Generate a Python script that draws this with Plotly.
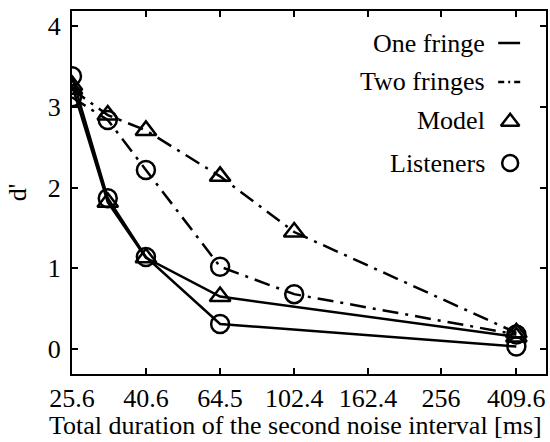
import math
import plotly.graph_objects as go

# Durations (ms) and d' values
dur_one = [25.6, 32, 40.6, 64.5, 409.6]
dur_two = [25.6, 32, 40.6, 64.5, 102.4, 409.6]
one_model = [3.27, 1.82, 1.13, 0.65, 0.15]
one_listen = [3.38, 1.87, 1.14, 0.31, 0.03]
two_model = [3.22, 2.90, 2.71, 2.14, 1.45, 0.20]
two_listen = [3.12, 2.84, 2.22, 1.02, 0.68, 0.18]

x_ticks = [25.6, 40.6, 64.5, 102.4, 162.4, 256, 409.6]
x_ticktext = ["25.6", "40.6", "64.5", "102.4", "162.4", "256", "409.6"]
y_ticks = [0, 1, 2, 3, 4]

legend_labels = ["One fringe", "Two fringes", "Model", "Listeners"]
x_title = "Total duration of the second noise interval [ms]"

FONT = "Times New Roman, Liberation Serif, DejaVu Serif, serif"
FS = 26
DASHDOT = "16px,7px,3px,7px"
LW = 2.5

fig = go.Figure()


def add_series(x, y, dash, symbol):
    fig.add_trace(go.Scatter(
        x=x, y=y, mode="lines+markers",
        line=dict(color="black", width=LW, dash=dash),
        marker=dict(symbol=symbol, size=18, color="black",
                    line=dict(color="black", width=2.5)),
        showlegend=False, hoverinfo="skip",
    ))


add_series(dur_one, one_model, "solid", "triangle-up-open")
add_series(dur_one, one_listen, "solid", "circle-open")
add_series(dur_two, two_model, DASHDOT, "triangle-up-open")
add_series(dur_two, two_listen, DASHDOT, "circle-open")

# Plot-area edges in pixels, used to place the key and the x title
PL, PR, PT, PB = 72, 548, 11, 374
W, H = PR - PL, PB - PT


def px_x(px):
    return (px - PL) / W


def px_y(py):
    return (PB - py) / H


# Hand-built key: text on the left, symbol on the right
row_y = [43, 82, 120, 163]
for lab, ry in zip(legend_labels, row_y):
    fig.add_annotation(
        x=px_x(489), y=px_y(ry), xref="paper", yref="paper",
        text=lab, showarrow=False, xanchor="right", yanchor="middle",
        font=dict(family=FONT, size=FS, color="black"),
    )

fig.add_shape(type="line", xref="paper", yref="paper",
              x0=px_x(500), x1=px_x(522), y0=px_y(row_y[0]), y1=px_y(row_y[0]),
              line=dict(color="black", width=LW))
fig.add_shape(type="line", xref="paper", yref="paper",
              x0=px_x(500), x1=px_x(523), y0=px_y(row_y[1]), y1=px_y(row_y[1]),
              line=dict(color="black", width=LW, dash="6px,4px,2px,4px"))

fig.add_trace(go.Scatter(
    x=[px_x(512), px_x(512)], y=[px_y(row_y[2]) - 0.005, px_y(row_y[3])],
    xaxis="x2", yaxis="y2", mode="markers",
    marker=dict(symbol=["triangle-up-open", "circle-open"], size=16,
                color="black", line=dict(color="black", width=2.5)),
    showlegend=False, hoverinfo="skip",
))

# x-axis title, spanning nearly the full figure width
fig.add_annotation(
    x=px_x(296), y=px_y(441), xref="paper", yref="paper",
    text=x_title, showarrow=False, xanchor="center", yanchor="bottom",
    borderpad=0,
    font=dict(family=FONT, size=FS, color="black"),
)

axis_common = dict(
    showline=True, linecolor="black", linewidth=2, mirror="ticks",
    ticks="inside", ticklen=6, tickwidth=1.5, tickcolor="black",
    showgrid=False, zeroline=False,
    tickfont=dict(family=FONT, size=FS, color="black"),
)

fig.update_layout(
    width=550, height=442,
    margin=dict(l=PL, r=550 - PR, t=PT, b=442 - PB),
    paper_bgcolor="white", plot_bgcolor="white",
    font=dict(family=FONT, size=FS, color="black"),
    xaxis=dict(
        type="log",
        range=[math.log10(25.6), math.log10(409.6 * 2 ** (2 / 3 * 0.4))],
        tickvals=x_ticks, ticktext=x_ticktext,
        ticklabelstandoff=0,
        **axis_common,
    ),
    yaxis=dict(
        range=[-0.31, 4.19], tickvals=y_ticks,
        title=dict(text="d'", font=dict(family=FONT, size=FS, color="black"),
                   standoff=14),
        ticklabelstandoff=4,
        **axis_common,
    ),
    xaxis2=dict(overlaying="x", range=[0, 1], visible=False),
    yaxis2=dict(overlaying="y", range=[0, 1], visible=False),
)

fig.write_html("out.html")
